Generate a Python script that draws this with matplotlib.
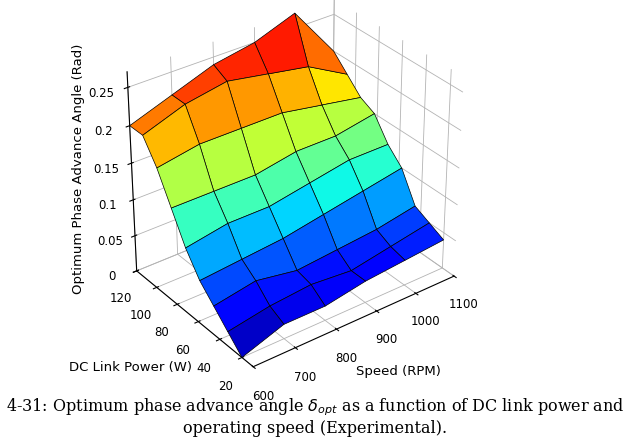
import numpy as np
import matplotlib
matplotlib.use("Agg")
import matplotlib.pyplot as plt

speed = [600, 700, 800, 900, 1000, 1100]
power = [20, 32.5, 45, 57.5, 70, 82.5, 95, 107.5, 120]
angle = [
    [0.00, 0.02, 0.02, 0.03, 0.035, 0.04],
    [0.02, 0.03, 0.035, 0.03, 0.04, 0.05],
    [0.04, 0.05, 0.04, 0.045, 0.05, 0.06],
    [0.06, 0.065, 0.07, 0.08, 0.09, 0.10],
    [0.09, 0.10, 0.10, 0.11, 0.12, 0.12],
    [0.13, 0.13, 0.13, 0.14, 0.14, 0.15],
    [0.17, 0.18, 0.18, 0.18, 0.17, 0.16],
    [0.20, 0.22, 0.23, 0.22, 0.21, 0.18],
    [0.20, 0.22, 0.24, 0.25, 0.27, 0.20],
]
caption = ("4-31: Optimum phase advance angle $\\delta_{opt}$ as a function of DC link power and\n"
           "operating speed (Experimental).")

X, Y = np.meshgrid(speed, power)
Z = np.array(angle)

fig = plt.figure(figsize=(6.3, 4.44), dpi=100)
ax = fig.add_axes([0.05, 0.15, 0.82, 0.88], projection='3d')
ax.plot_surface(X, Y, Z, cmap='jet', vmin=0, vmax=0.27, edgecolor='k',
                linewidth=0.5, shade=False, antialiased=True)
ax.view_init(elev=32, azim=-127)
ax.set_box_aspect((1.25, 1, 1.15), zoom=1.0)
ax.set_xlim(600, 1100)
ax.set_ylim(10, 120)
ax.set_zlim(0, 0.27)
ax.set_xticks([600, 700, 800, 900, 1000, 1100])
ax.set_yticks([20, 40, 60, 80, 100, 120])
ax.set_zticks([0, 0.05, 0.1, 0.15, 0.2, 0.25])
ax.set_zticklabels(['0', '0.05', '0.1', '0.15', '0.2', '0.25'])
ax.tick_params(labelsize=8.5)
for a in (ax.xaxis, ax.yaxis, ax.zaxis):
    a.set_pane_color((1, 1, 1, 0))
    a._axinfo['grid']['color'] = (0.7, 0.7, 0.7, 1)
    a._axinfo['grid']['linewidth'] = 0.6
fig.text(0.565, 0.155, 'Speed (RPM)', fontsize=9.5, ha='left')
fig.text(0.11, 0.165, 'DC Link Power (W)', fontsize=9.5, ha='left')
fig.text(0.125, 0.62, 'Optimum Phase Advance Angle (Rad)', fontsize=9.5,
         rotation=90, ha='center', va='center')
fig.text(0.5, 0.015, caption, ha='center', va='bottom', fontsize=11.5,
         family='DejaVu Serif')
fig.savefig('out.png', dpi=100)
